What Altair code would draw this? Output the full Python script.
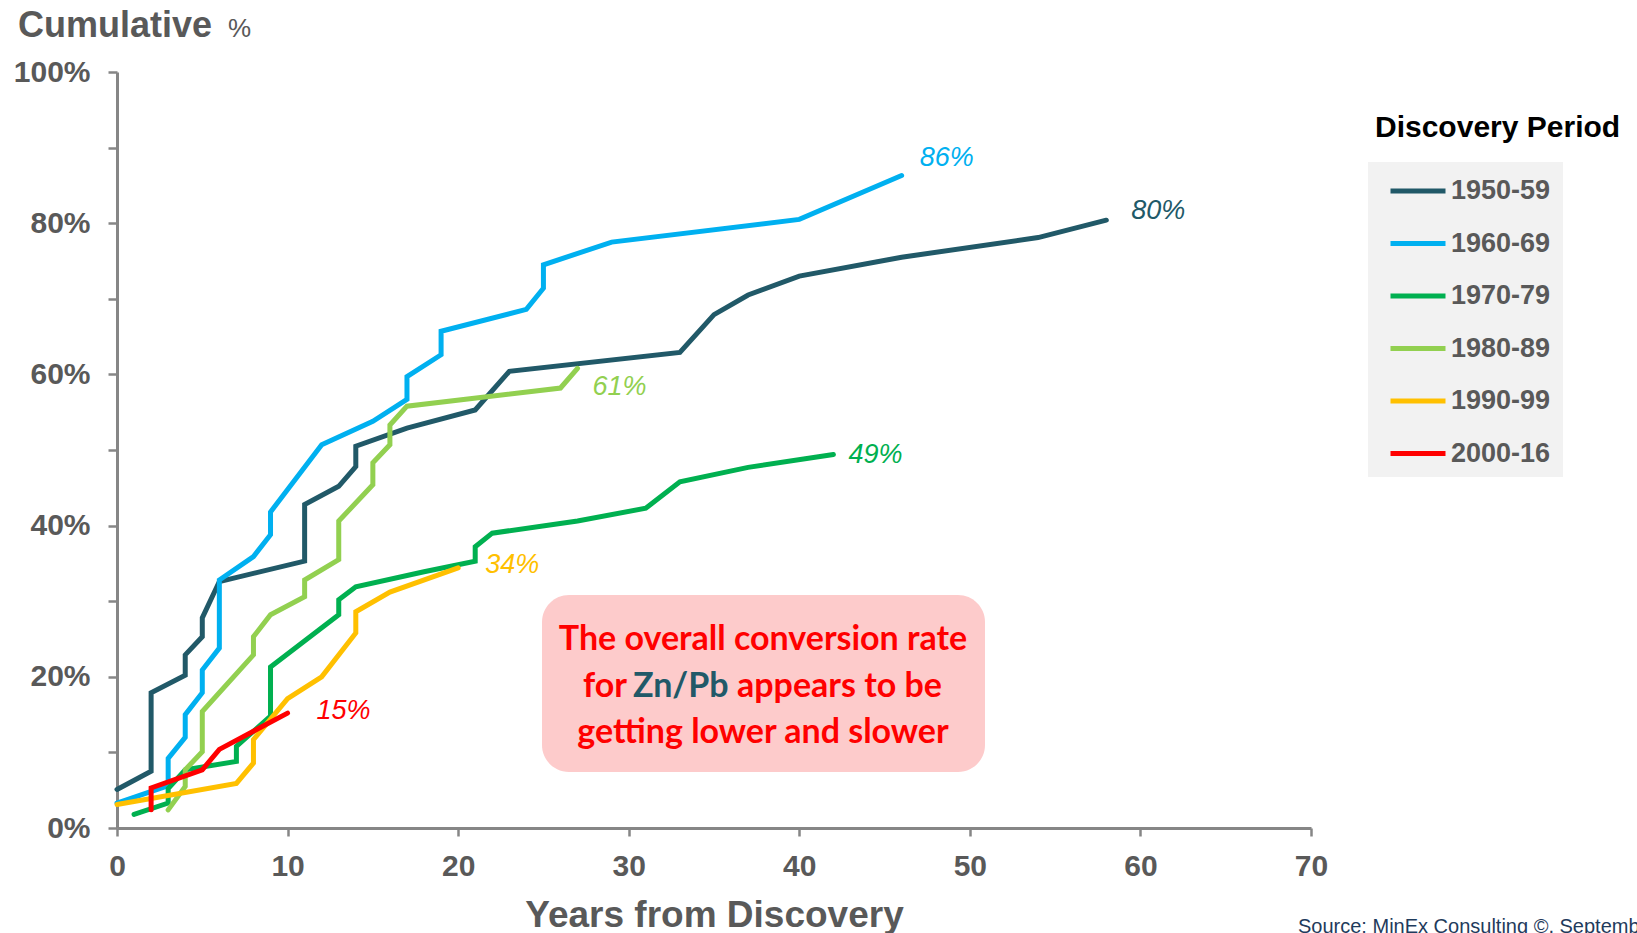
import altair as alt
import pandas as pd

# ---------------- data ----------------
periods = ["1950-59", "1960-69", "1970-79", "1980-89", "1990-99", "2000-16"]
colors = ["#215968", "#00B0F0", "#00B050", "#92D050", "#FFC000", "#FF0000"]

years_1950 = [0, 2, 2, 4, 4, 5, 5, 6, 11, 11, 13, 14, 14, 17, 21, 23, 33, 35, 37, 40, 46, 54, 58]
pct_1950 = [5.1, 7.5, 17.9, 20.2, 22.9, 25.3, 27.8, 32.6, 35.3, 42.8, 45.2, 47.8, 50.5, 52.9,
            55.3, 60.4, 62.9, 67.9, 70.5, 73.0, 75.5, 78.1, 80.4]

years_1960 = [0, 3, 3, 4, 4, 5, 5, 6, 6, 8, 9, 9, 12, 15, 17, 17, 19, 19, 24, 25, 25, 29, 40, 46]
pct_1960 = [3.3, 5.6, 9.2, 12.0, 15.0, 17.9, 20.9, 23.8, 32.8, 35.9, 38.8, 41.8, 50.7, 53.8,
            56.7, 59.7, 62.6, 65.7, 68.6, 71.4, 74.5, 77.5, 80.5, 86.3]

years_1970 = [1, 3, 3, 4, 7, 7, 9, 9, 13, 13, 14, 18, 21, 21, 22, 27, 31, 33, 37, 42]
pct_1970 = [1.8, 3.3, 5.2, 7.7, 8.8, 10.8, 14.8, 21.3, 28.2, 30.2, 31.9, 33.9, 35.3, 37.2,
            39.0, 40.6, 42.3, 45.8, 47.7, 49.4]

years_1980 = [3, 4, 4, 5, 5, 8, 8, 9, 11, 11, 13, 13, 15, 15, 16, 16, 17, 26, 27]
pct_1980 = [2.4, 5.5, 7.7, 10.1, 15.4, 22.9, 25.3, 28.2, 30.6, 32.8, 35.5, 40.6, 45.4, 48.3,
            50.7, 53.3, 55.8, 58.2, 60.8]

years_1990 = [0, 7, 8, 8, 10, 12, 14, 14, 16, 20]
pct_1990 = [3.1, 5.9, 8.6, 11.7, 17.1, 20.0, 25.8, 28.6, 31.2, 34.4]

years_2000 = [2, 2, 5, 6, 10]
pct_2000 = [2.4, 5.3, 7.7, 10.4, 15.2]

end_labels = ["80%", "86%", "49%", "61%", "34%", "15%"]

series_years = [years_1950, years_1960, years_1970, years_1980, years_1990, years_2000]
series_pct = [pct_1950, pct_1960, pct_1970, pct_1980, pct_1990, pct_2000]

rows = []
for p, ys, vs in zip(periods, series_years, series_pct):
    for i, (yr, v) in enumerate(zip(ys, vs)):
        rows.append({"period": p, "year": yr, "pct": v, "i": i})
df = pd.DataFrame(rows)

# ---------------- layout constants ----------------
OX, OY = 117, 72          # plot-area origin on the page
W, H = 1194, 756
GRAY = "#595959"
AXIS_GRAY = "#868686"
NARROW = "Liberation Sans Narrow, Arial Narrow, Liberation Sans, sans-serif"
SANS = "Liberation Sans, Arial, sans-serif"

one = pd.DataFrame({"k": [0]})

x_enc = alt.X("year:Q",
              scale=alt.Scale(domain=[0, 70], nice=False, zero=False),
              axis=alt.Axis(values=list(range(0, 71, 10)), title="Years from Discovery",
                            grid=False, domainColor=AXIS_GRAY, domainWidth=3,
                            tickColor=AXIS_GRAY, tickWidth=2.5, tickSize=8,
                            labelFont=SANS, labelFontSize=30, labelFontWeight="bold",
                            labelColor=GRAY, labelPadding=15, labelFlush=False,
                            labelOverlap=False,
                            titleFont=SANS, titleFontSize=37, titleFontWeight="bold",
                            titleColor=GRAY, titleBaseline="middle", titleY=87))
y_enc = alt.Y("pct:Q",
              scale=alt.Scale(domain=[0, 100], nice=False, zero=True),
              axis=alt.Axis(values=list(range(0, 101, 10)),
                            labelExpr="datum.value % 20 == 0 ? datum.value + '%' : ''",
                            title=None, grid=False, domainColor=AXIS_GRAY, domainWidth=3,
                            tickColor=AXIS_GRAY, tickWidth=2.5, tickSize=9,
                            labelFont=SANS, labelFontSize=30, labelFontWeight="bold",
                            labelColor=GRAY, labelPadding=18, labelOverlap=False))

legend_box = alt.Chart(one).mark_rect(color="#F2F2F2").encode(
    x=alt.value(1368 - OX), x2=alt.value(1563 - OX),
    y=alt.value(162 - OY), y2=alt.value(477 - OY))

note_box = alt.Chart(one).mark_rect(color="#FDCBCB", cornerRadius=27).encode(
    x=alt.value(542 - OX), x2=alt.value(985 - OX),
    y=alt.value(595 - OY), y2=alt.value(772 - OY))

lines = alt.Chart(df).mark_line(strokeWidth=5, strokeCap="round").encode(
    x=x_enc, y=y_enc,
    color=alt.Color("period:N",
                    scale=alt.Scale(domain=periods, range=colors),
                    legend=alt.Legend(orient="none", legendX=1388 - OX, legendY=161 - OY,
                                      title=None, symbolType="stroke", symbolSize=3025,
                                      symbolStrokeWidth=5, labelFont=NARROW,
                                      labelFontSize=27, labelFontWeight="bold",
                                      labelColor=GRAY, labelOffset=3, rowPadding=9.5,
                                      padding=0, symbolOffset=0, labelLimit=300)),
    order="i:Q")

# end-of-line labels
label_offsets = [(25, -9), (18, -18), (15, 0), (15, 19), (27, -3), (29, -2)]
label_layers = []
for p, ys, vs, lab, col, (dx, dy) in zip(periods, series_years, series_pct, end_labels,
                                         colors, label_offsets):
    d = pd.DataFrame({"year": [ys[-1]], "pct": [vs[-1]], "lab": [lab]})
    label_layers.append(
        alt.Chart(d).mark_text(align="left", baseline="middle", dx=dx, dy=dy,
                               font=NARROW, fontSize=27, fontStyle="italic", color=col)
        .encode(x="year:Q", y="pct:Q", text="lab:N"))


def txt(text, x, y, **kw):
    return alt.Chart(pd.DataFrame({"t": [text]})).mark_text(**kw).encode(
        x=alt.value(x - OX), y=alt.value(y - OY), text="t:N")


y_title1 = txt("Cumulative", 18, 37, align="left", baseline="alphabetic", font=SANS,
               fontSize=36, fontWeight="bold", color=GRAY)
y_title2 = txt("%", 228, 37, align="left", baseline="alphabetic", font=SANS,
               fontSize=26, color=GRAY)
legend_title = txt("Discovery Period", 1375, 137, align="left", baseline="alphabetic",
                   font=SANS, fontSize=30, fontWeight="bold", color="#000000")
source = txt("Source: MinEx Consulting ©, September 2017", 1298, 933, align="left",
             baseline="alphabetic", font=SANS, fontSize=20, color="#1F3B5C")

NOTE_FONT = "Lato, Open Sans, sans-serif"
note_kw = dict(baseline="middle", font=NOTE_FONT, fontSize=34, fontWeight="bold")
note1 = txt("The overall conversion rate", 763, 640, align="center", color="#FF0000", **note_kw)
note2a = txt("for", 627, 687, align="right", color="#FF0000", **note_kw)
note2b = txt("Zn/Pb", 633, 687, align="left", color="#215968", **note_kw)
note2c = txt("appears to be", 737, 687, align="left", color="#FF0000", **note_kw)
note3 = txt("getting lower and slower", 763, 733, align="center", color="#FF0000", **note_kw)

chart = alt.layer(
    legend_box, note_box, lines, *label_layers,
    y_title1, y_title2, legend_title, source,
    note1, note2a, note2b, note2c, note3,
).properties(
    width=W, height=H,
    autosize=alt.AutoSizeParams(type="none"),
    padding={"left": OX, "top": OY, "right": 1637 - OX - W, "bottom": 933 - OY - H},
    background="white",
).configure_view(stroke=None)

chart.save("out.html", embed_options={"renderer": "svg", "actions": False})
